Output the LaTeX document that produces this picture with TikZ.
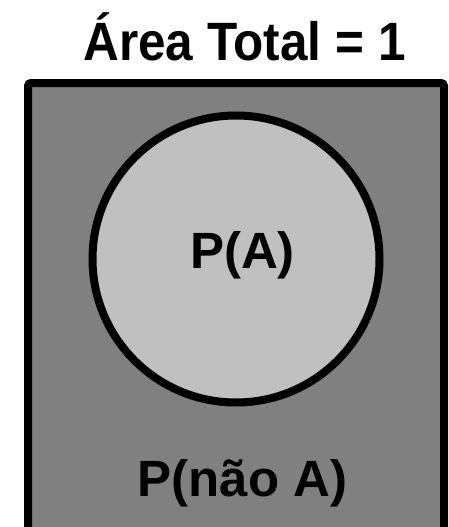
\documentclass[tikz,border=0pt]{standalone}
\usepackage{fontspec}
\setmainfont{Liberation Sans}
\definecolor{outergray}{RGB}{128,128,128}
\definecolor{innergray}{RGB}{192,192,192}
\begin{document}
\begin{tikzpicture}[x=1pt,y=-1pt,
  lbl/.style={font=\fontsize{51}{51}\selectfont\bfseries, inner sep=0pt, anchor=base},
  ttl/.style={font=\fontsize{54}{54}\selectfont\bfseries, inner sep=0pt, anchor=base, xscale=0.916}]
\useasboundingbox (0,0) rectangle (448,527);
\clip (0,0) rectangle (448,527);
\draw[line width=8pt, fill=outergray, rounded corners=3pt] (28,83) rectangle (444,545);
\node[circle, draw, line width=8pt, fill=innergray, minimum size=287pt, inner sep=0pt] (circ) at (236,259) {};
\node[ttl] (title) at (244.5,60.7) {Área Total = 1};
\node[lbl] (pa) at (242.5,268) {P(A)};
\node[lbl] (pna) at (242.5,496) {P(não A)};
\end{tikzpicture}
\end{document}
